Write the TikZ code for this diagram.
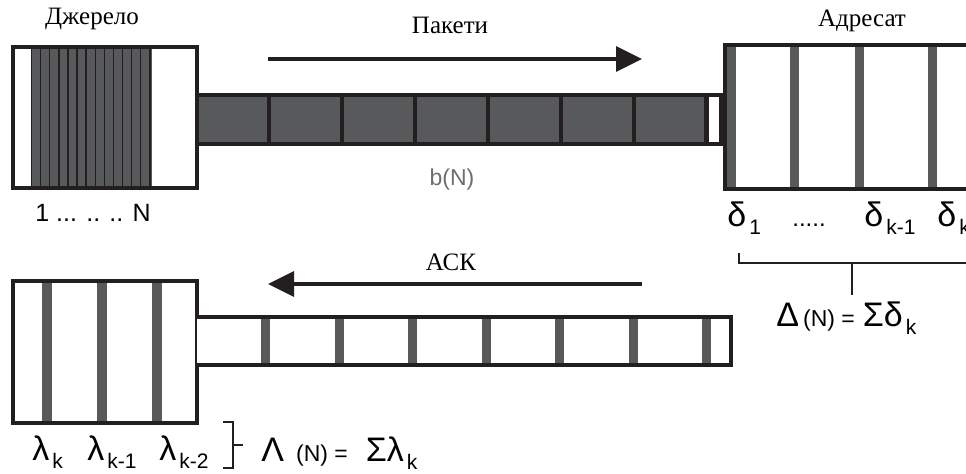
\documentclass[tikz,border=0pt]{standalone}
\usepackage{fontspec}
\setmainfont{Liberation Serif}
\setsansfont{Liberation Sans}
\usepackage{xcolor}
\usetikzlibrary{arrows.meta, positioning, calc}

\definecolor{cellgray}{HTML}{58595B}
\definecolor{inkblack}{HTML}{231F20}
\definecolor{labelgray}{HTML}{6D6E70}

\tikzset{
  bufferframe/.style={draw=inkblack, line width=2pt},
  slotline/.style={draw=inkblack, line width=0.7pt},
  flowarrow/.style={
    -{Triangle[length=13pt,width=12.5pt]}, line width=1.6pt, draw=inkblack
  },
  bracketline/.style={draw=inkblack, line width=1pt},
  wordlabel/.style={font=\fontsize{12.5}{14}\selectfont, inner sep=0pt},
  symlabel/.style={
    font=\sffamily\fontsize{17}{20}\selectfont, inner sep=0pt, anchor=base west
  },
}
\newcommand{\gsub}[2]{#1\kern1.5pt\raisebox{-4pt}{\fontsize{10.5}{12}\selectfont #2}}

\begin{document}
\begin{tikzpicture}[x=0.5pt, y=-0.5pt]
  \useasboundingbox (0,0) rectangle (966,474);
  \clip (0,0) rectangle (966,474);

  % ── Source buffer ──
  \fill[white] (13,47) rectangle (197,188);
  \fill[cellgray] (31,47) rectangle (152,188);
  \foreach \i in {0,...,13}
    \draw[slotline] ({31.5+9.1*\i},47) -- ({31.5+9.1*\i},188);
  \draw[bufferframe] (13,47) rectangle (197,188);

  % ── Packet channel ──
  \fill[inkblack] (197,93) rectangle (723,146);
  \foreach \i in {0,...,6}
    \fill[cellgray] ({198.5+72.9*\i},97.5) rectangle ({267+72.9*\i},142);
  \fill[white] (709,97.5) rectangle (718.5,142);

  % ── Destination buffer ──
  \fill[white] (725,45) rectangle (990,189);
  \foreach \x in {727,790,855,928}
    \fill[cellgray] (\x,45) rectangle (\x+9,189);
  \draw[bufferframe] (725,45) rectangle (990,189);

  % ── ACK buffer and channel ──
  \fill[white] (13,281) rectangle (197,423);
  \foreach \x in {42,97,152}
    \fill[cellgray] (\x,281) rectangle (\x+9.5,423);
  \draw[bufferframe] (13,281) rectangle (197,423);

  \fill[white] (197,317) rectangle (731,365);
  \foreach \i in {0,...,6}
    \fill[cellgray] ({261+73.5*\i},317) rectangle ({270+73.5*\i},365);
  \draw[bufferframe] (197,317) -- (731,317) -- (731,365) -- (197,365);

  % ── Direction arrows ──
  \coordinate (pkt-tail) at (268,59);
  \coordinate (pkt-head) at (642,59);
  \coordinate (ack-tail) at (642,284);
  \coordinate (ack-head) at (268,284);
  \draw[flowarrow] (pkt-tail) -- (pkt-head);
  \draw[flowarrow] (ack-tail) -- (ack-head);

  % ── Brackets ──
  \coordinate (dbr-left) at (739,253);
  \coordinate (dbr-mid) at (852,263);
  \draw[bracketline] (dbr-left) -- (739,263) -- (980,263);
  \draw[bracketline] (dbr-mid) -- (852,295);
  \coordinate (lbr-mid) at (233,445);
  \draw[bracketline] (223,422) -- (233,422) -- (233,468) -- (223,468);
  \draw[bracketline] (lbr-mid) -- (243,445);

  % ── Labels ──
  \node[wordlabel] (src-title) at (92,19) {Джерело};
  \node[wordlabel] (pkt-title) at (450,25) {Пакети};
  \node[wordlabel] (dst-title) at (862,21) {Адресат};
  \node[wordlabel] (ack-title) at (451,262) {АСК};

  \node[font=\sffamily\fontsize{11.5}{13}\selectfont, text=labelgray, inner sep=0pt]
    (chan-size) at (452,180) {b(N)};
  \node[symlabel, font=\sffamily\fontsize{12.5}{14}\selectfont]
    (src-index) at (35,222) {1 ... .. .. N};

  \node[symlabel] (d-first) at (727,227) {\gsub{δ}{1}};
  \node[symlabel, font=\sffamily\fontsize{12}{14}\selectfont]
    (d-dots) at (792,227) {.....};
  \node[symlabel] (d-prev) at (864,227) {\gsub{δ}{k-1}};
  \node[symlabel] (d-last) at (937,227) {\gsub{δ}{k}};
  \node[symlabel] (d-sum) at (776,327)
    {Δ\kern2pt{\fontsize{11.5}{14}\selectfont(N) =}\kern4pt Σ\gsub{δ}{k}};

  \node[symlabel] (l-k) at (32,461) {\gsub{λ}{k}};
  \node[symlabel] (l-k1) at (87,461) {\gsub{λ}{k-1}};
  \node[symlabel] (l-k2) at (159,461) {\gsub{λ}{k-2}};
  \node[symlabel] (l-sum) at (261,462)
    {Λ\kern6pt{\fontsize{11.5}{14}\selectfont(N) =}\kern9pt Σ\gsub{λ}{k}};
\end{tikzpicture}
\end{document}
